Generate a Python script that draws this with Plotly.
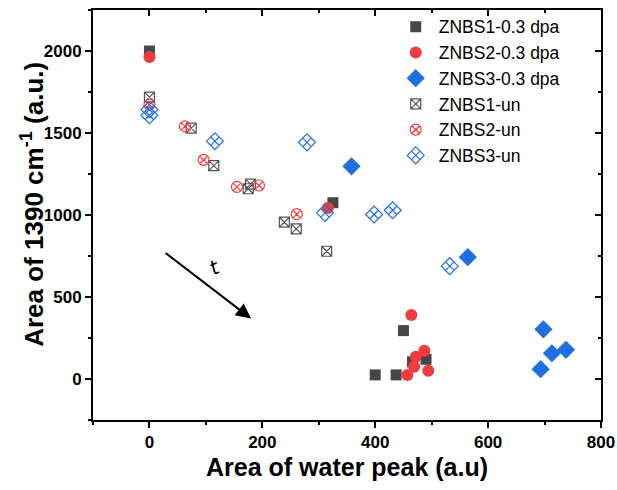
import plotly.graph_objects as go

# ---- data ----
s1_dpa_x = [0, 325, 450, 400, 437, 466, 490]
s1_dpa_y = [2000, 1075, 295, 25, 25, 105, 120]

s2_dpa_x = [0, 316, 464, 487, 472, 469, 457, 494]
s2_dpa_y = [1963, 1043, 390, 172, 136, 75, 24, 50]

s3_dpa_x = [358, 564, 698, 713, 738, 693]
s3_dpa_y = [1297, 743, 303, 157, 178, 60]

s1_un_x = [0, 74, 114, 179, 175, 239, 260, 314]
s1_un_y = [1719, 1530, 1301, 1188, 1160, 956, 915, 779]

s2_un_x = [0, 63, 96, 155, 194, 261]
s2_un_y = [1673, 1541, 1336, 1171, 1180, 1005]

s3_un_x = [0, 0, 116, 279, 311, 398, 431, 532]
s3_un_y = [1643, 1608, 1450, 1443, 1013, 1003, 1029, 688]

names = ["ZNBS1-0.3 dpa", "ZNBS2-0.3 dpa", "ZNBS3-0.3 dpa",
         "ZNBS1-un", "ZNBS2-un", "ZNBS3-un"]

arrow_start = (26, 775)
arrow_end = (180, 369)
t_label_pos = (116, 684)

x_range = [-100, 800]
y_range = [-250, 2250]
x_ticks = [0, 200, 400, 600, 800]
y_ticks = [0, 500, 1000, 1500, 2000]

GRAY = "#474747"
RED = "#f03c3c"
BLUE = "#1f6fe0"

fig = go.Figure()

fig.add_trace(go.Scatter(x=s1_dpa_x, y=s1_dpa_y, mode="markers", name=names[0],
                         marker=dict(symbol="square", size=11, color=GRAY)))
fig.add_trace(go.Scatter(x=s2_dpa_x, y=s2_dpa_y, mode="markers", name=names[1],
                         marker=dict(symbol="circle", size=12, color=RED)))
fig.add_trace(go.Scatter(x=s3_dpa_x, y=s3_dpa_y, mode="markers", name=names[2],
                         marker=dict(symbol="diamond", size=14, color=BLUE)))
fig.add_trace(go.Scatter(x=s1_un_x, y=s1_un_y, mode="markers", name=names[3],
                         marker=dict(symbol="square-x-open", size=10, color="#555555",
                                     line=dict(width=1.2, color="#555555"))))
fig.add_trace(go.Scatter(x=s2_un_x, y=s2_un_y, mode="markers", name=names[4],
                         marker=dict(symbol="circle-x-open", size=11, color=RED,
                                     line=dict(width=1.2, color=RED))))
fig.add_trace(go.Scatter(x=s3_un_x, y=s3_un_y, mode="markers", name=names[5],
                         marker=dict(symbol="diamond-x-open", size=13, color=BLUE,
                                     line=dict(width=1.2, color=BLUE))))

# dummy trace for mirrored inward-tick axes
fig.add_trace(go.Scatter(x=[None], y=[None], xaxis="x2", yaxis="y2",
                         showlegend=False, hoverinfo="skip"))

fig.add_annotation(x=arrow_end[0], y=arrow_end[1], ax=arrow_start[0], ay=arrow_start[1],
                   xref="x", yref="y", axref="x", ayref="y",
                   showarrow=True, arrowhead=2, arrowsize=1.5, arrowwidth=2,
                   arrowcolor="black", text="")
fig.add_annotation(x=t_label_pos[0], y=t_label_pos[1], xref="x", yref="y",
                   text="<i>t</i>", showarrow=False, textangle=-25,
                   font=dict(family="DejaVu Sans, sans-serif", size=20, color="black"))

# y-axis title as an annotation for exact placement
fig.add_annotation(x=-0.118, y=0.525, xref="paper", yref="paper",
                   text="<b>Area of 1390 cm<sup>-1</sup> (a.u.)</b>", showarrow=False,
                   textangle=-90, xanchor="center", yanchor="middle",
                   font=dict(family="Liberation Sans, Arial, sans-serif", size=26, color="black"))

axis_font = dict(family="Liberation Sans, Arial, sans-serif", size=17, color="black")

fig.update_layout(
    width=617, height=490,
    margin=dict(l=93, r=16, t=10, b=70, autoexpand=False),
    plot_bgcolor="white", paper_bgcolor="white",
    font=dict(family="Liberation Sans, Arial, sans-serif", color="black"),
    xaxis=dict(range=x_range, tickvals=x_ticks, ticktext=[f"<b>{v}</b>" for v in x_ticks],
               showgrid=False, zeroline=False, showline=True, linecolor="black", linewidth=2,
               ticks="outside", ticklen=6, tickwidth=2, tickcolor="black",
               minor=dict(ticks="outside", ticklen=3, tickwidth=2, tickcolor="black", dtick=100, tick0=0),
               tickfont=axis_font, automargin=False, ticklabeloverflow="allow",
               title=dict(text="<b>Area of water peak (a.u)</b>",
                          font=dict(family="Liberation Sans, Arial, sans-serif", size=25, color="black"),
                          standoff=7)),
    yaxis=dict(range=y_range, tickvals=y_ticks, ticktext=[f"<b>{v}</b>" for v in y_ticks],
               showgrid=False, zeroline=False, showline=True, linecolor="black", linewidth=2,
               ticks="outside", ticklen=6, tickwidth=2, tickcolor="black",
               minor=dict(ticks="outside", ticklen=3, tickwidth=2, tickcolor="black", dtick=250, tick0=0),
               tickfont=axis_font, automargin=False),
    xaxis2=dict(range=x_range, overlaying="x", side="top", anchor="y", tickvals=x_ticks,
                showticklabels=False, showgrid=False, zeroline=False, showline=True,
                linecolor="black", linewidth=2, ticks="inside", ticklen=6, tickwidth=2,
                tickcolor="black", automargin=False,
                minor=dict(ticks="inside", ticklen=3, tickwidth=2, tickcolor="black", dtick=100, tick0=0)),
    yaxis2=dict(range=y_range, overlaying="y", side="right", anchor="x", tickvals=y_ticks,
                showticklabels=False, showgrid=False, zeroline=False, showline=True,
                linecolor="black", linewidth=2, ticks="inside", ticklen=6, tickwidth=2,
                tickcolor="black", automargin=False,
                minor=dict(ticks="inside", ticklen=3, tickwidth=2, tickcolor="black", dtick=250, tick0=0)),
    legend=dict(x=0.59, y=1.003, xanchor="left", yanchor="top",
                bgcolor="rgba(0,0,0,0)", borderwidth=0,
                font=dict(family="Liberation Sans, Arial, sans-serif", size=17.5, color="black"),
                itemwidth=36),
    showlegend=True,
)

fig.write_html("out.html")
